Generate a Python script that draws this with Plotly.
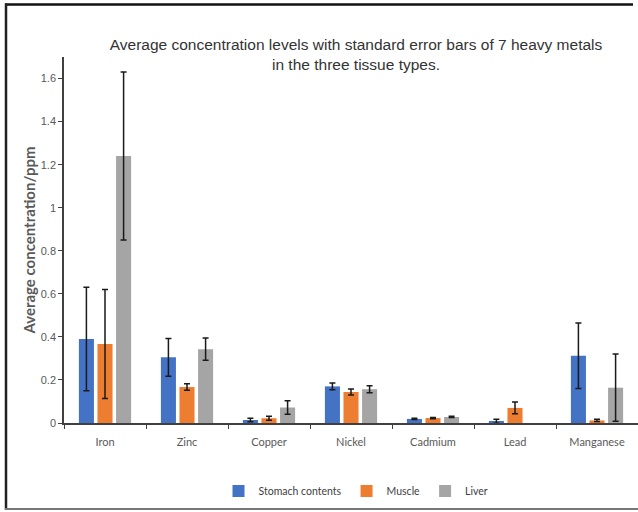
import plotly.graph_objects as go

metals = ["Iron", "Zinc", "Copper", "Nickel", "Cadmium", "Lead", "Manganese"]
stomach = [0.39, 0.305, 0.014, 0.17, 0.019, 0.008, 0.312]
stomach_se = [0.24, 0.088, 0.008, 0.016, 0.003, 0.009, 0.152]
muscle = [0.367, 0.167, 0.022, 0.144, 0.023, 0.07, 0.012]
muscle_se = [0.253, 0.015, 0.009, 0.014, 0.003, 0.027, 0.005]
liver = [1.24, 0.343, 0.072, 0.157, 0.028, None, 0.164]
liver_se = [0.39, 0.052, 0.031, 0.016, 0.003, None, 0.156]

series = [
    ("Stomach contents", stomach, stomach_se, "#4472C4"),
    ("Muscle", muscle, muscle_se, "#ED7D31"),
    ("Liver", liver, liver_se, "#A5A5A5"),
]

fig = go.Figure()
for name, vals, se, col in series:
    fig.add_trace(go.Bar(
        x=metals, y=vals, name=name, marker_color=col, marker_line_width=0,
        error_y=dict(type="data", array=se, visible=True, color="#1a1a1a",
                     thickness=1.5, width=3),
    ))

W0, H0 = 64, 423  # plot origin in px
PW, PH = 574, 365.5
def px(x):
    return (x - W0) / PW
def py(y):
    return (H0 - y) / PH

fig.update_layout(
    width=638, height=512,
    margin=dict(l=64, r=0, t=57, b=89),
    paper_bgcolor="white", plot_bgcolor="white",
    barmode="group", bargap=0.32, bargroupgap=0.19,
    font=dict(family="Liberation Sans Narrow, Liberation Sans, Arial", color="#595959"),
    title=dict(
        text="Average concentration levels with standard error bars of 7 heavy metals<br>in the three tissue types.",
        x=356 / 638, xanchor="center", y=1 - 50 / 512, yanchor="middle",
        font=dict(family="Liberation Sans Narrow, Liberation Sans, Arial", size=15.5, color="#333333"),
    ),
    xaxis=dict(
        showline=True, linecolor="#404040", linewidth=1.5,
        ticks="outside", tickson="boundaries", ticklen=4, tickcolor="#404040",
        tickfont=dict(family="Lato, Open Sans", size=11, color="#595959"),
        ticklabelstandoff=8,
        showgrid=False,
    ),
    yaxis=dict(
        range=[0, 1.7], tickvals=[0, 0.2, 0.4, 0.6, 0.8, 1.0, 1.2, 1.4, 1.6],
        ticktext=["0", "0.2", "0.4", "0.6", "0.8", "1", "1.2", "1.4", "1.6"],
        showline=True, linecolor="#404040", linewidth=1.5,
        ticks="outside", ticklen=4, tickcolor="#404040",
        tickfont=dict(family="Liberation Sans Narrow, Liberation Sans", size=11, color="#595959"),
        showgrid=False, zeroline=False,
        title=dict(text="<b>Average concentration/ppm</b>", standoff=2,
                   font=dict(family="Lato, Open Sans", size=15, color="#595959")),
    ),
    legend=dict(
        orientation="h", x=px(356), xanchor="center", y=py(491), yanchor="middle",
        font=dict(family="Lato, Open Sans", size=10.5, color="#404040"),
        itemwidth=30, bgcolor="rgba(0,0,0,0)",
    ),
    shapes=[
        dict(type="line", xref="paper", yref="paper", x0=px(5), x1=px(633), y0=py(5), y1=py(5),
             line=dict(color="#111111", width=2.5)),
        dict(type="line", xref="paper", yref="paper", x0=px(6), x1=px(6), y0=py(4), y1=py(510),
             line=dict(color="#222222", width=2.5)),
        dict(type="line", xref="paper", yref="paper", x0=px(5), x1=px(638), y0=py(509), y1=py(509),
             line=dict(color="#777777", width=2)),
    ],
)

fig.write_html("out.html", config={"displayModeBar": False},
               post_script="document.body.style.margin='0';document.body.style.overflow='hidden';")
